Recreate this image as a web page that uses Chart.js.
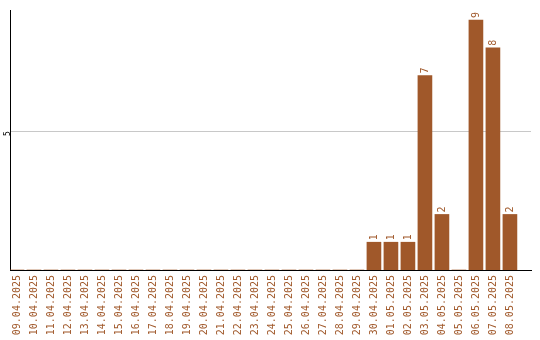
<!DOCTYPE html>
<html>
<head>
<meta charset="utf-8">
<script src="https://cdn.jsdelivr.net/npm/chart.js@4"></script>
<style>
  html, body { margin: 0; padding: 0; background: #fff; }
  #wrap { width: 540px; height: 340px; }
</style>
</head>
<body>
<div id="wrap"><canvas id="chart1"></canvas></div>
<script>
const dates = [
  "09.04.2025", "10.04.2025", "11.04.2025", "12.04.2025", "13.04.2025",
  "14.04.2025", "15.04.2025", "16.04.2025", "17.04.2025", "18.04.2025",
  "19.04.2025", "20.04.2025", "21.04.2025", "22.04.2025", "23.04.2025",
  "24.04.2025", "25.04.2025", "26.04.2025", "27.04.2025", "28.04.2025",
  "29.04.2025", "30.04.2025", "01.05.2025", "02.05.2025", "03.05.2025",
  "04.05.2025", "05.05.2025", "06.05.2025", "07.05.2025", "08.05.2025",
];
const counts = [0, 0, 0, 0, 0, 0, 0, 0, 0, 0, 0, 0, 0, 0, 0, 0, 0, 0, 0, 0, 0, 1, 1, 1, 7, 2, 0, 9, 8, 2];
const yTicks = [5];
const barColor = "#a0582a";
const font = { family: "DejaVu Sans Mono", size: 10 };

// valeurs au-dessus des barres, écrites à la verticale
const barValues = {
  id: "barValues",
  afterDatasetsDraw(chart) {
    const c = chart.ctx;
    const meta = chart.getDatasetMeta(0);
    c.save();
    c.fillStyle = barColor;
    c.font = font.size + "px " + font.family;
    c.textAlign = "left";
    c.textBaseline = "middle";
    meta.data.forEach((bar, i) => {
      if (!counts[i]) return;
      c.save();
      c.translate(bar.x, bar.y - 2);
      c.rotate(-Math.PI / 2);
      c.fillText(String(counts[i]), 0, 0);
      c.restore();
    });
    c.restore();
  },
};

const ctx = document.getElementById("chart1");

const chart = new Chart(ctx, {
  type: "bar",
  data: {
    datasets: [
      {
        data: counts.map((v, i) => ({ x: i, y: v })),
        backgroundColor: barColor,
        barThickness: 14,
      },
    ],
  },
  options: {
    responsive: true,
    maintainAspectRatio: false,
    animation: false,
    layout: { padding: { top: 10, right: 9, left: 0, bottom: 0 } },
    plugins: { legend: { display: false }, tooltip: { enabled: false } },
    scales: {
      x: {
        type: "linear",
        offset: false,
        min: -0.41,
        max: 30.24,
        grid: { display: false, drawTicks: false },
        border: { color: "#000", width: 1 },
        afterBuildTicks: (axis) => {
          axis.ticks = dates.map((d, i) => ({ value: i }));
        },
        afterFit: (axis) => {
          axis.height = 70;
        },
        ticks: {
          autoSkip: false,
          minRotation: 90,
          maxRotation: 90,
          padding: 5,
          color: barColor,
          font: font,
          callback: (v) => dates[v],
        },
      },
      y: {
        min: 0,
        max: 9.36,
        grid: { color: "#c8c8c8", drawTicks: false },
        border: { color: "#000", width: 1 },
        afterBuildTicks: (axis) => {
          axis.ticks = yTicks.map((v) => ({ value: v }));
        },
        afterFit: (axis) => {
          axis.width = 10;
        },
        ticks: {
          minRotation: 90,
          maxRotation: 90,
          padding: 2,
          color: "#000",
          font: { family: "DejaVu Sans Mono", size: 8 },
        },
      },
    },
  },
  plugins: [barValues],
});
</script>
</body>
</html>
